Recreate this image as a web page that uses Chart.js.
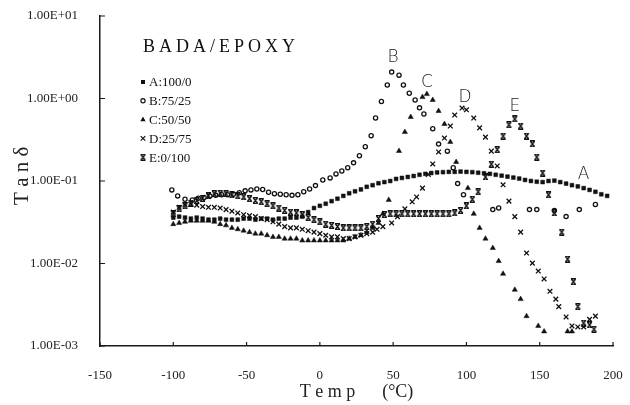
<!DOCTYPE html>
<html>
<head>
<meta charset="utf-8">
<script src="https://cdn.jsdelivr.net/npm/chart.js@4.4.0/dist/chart.umd.min.js"></script>
<style>
  html, body { margin: 0; padding: 0; background: #fff; }
  #wrap { width: 630px; height: 405px; }
</style>
</head>
<body>
<div id="wrap"><canvas id="tanChart" width="630" height="405"></canvas></div>
<script>
// tan delta vs temperature for the BADA/EPOXY blends

const seriesNames = ['A:100/0', 'B:75/25', 'C:50/50', 'D:25/75', 'E:0/100'];

// A 100/0
const aTemp = [-100, -96, -92, -88, -84, -80, -76, -72, -68, -64,
  -60, -56, -52, -48, -44, -40, -36, -32, -28, -24,
  -20, -16, -12, -8, -4, 0, 4, 8, 12, 16,
  20, 24, 28, 32, 36, 40, 44, 48, 52, 56,
  60, 64, 68, 72, 76, 80, 84, 88, 92, 96,
  100, 104, 108, 112, 116, 120, 124, 128, 132, 136,
  140, 144, 148, 152, 156, 160, 164, 168, 172, 176,
  180, 184, 188, 192, 196];
const aTan = [.036, .037, .036, .035, .036, .035, .034, .034, .035, .034,
  .034, .034, .035, .035, .034, .035, .035, .034, .035, .035,
  .036, .036, .037, .042, .047, .050, .053, .057, .061, .066,
  .071, .075, .079, .085, .089, .094, .097, .100, .106, .109,
  .112, .115, .119, .122, .125, .127, .128, .129, .129, .130,
  .129, .128, .126, .124, .122, .119, .116, .113, .110, .107,
  .103, .100, .098, .097, .100, .101, .097, .093, .089, .086,
  .082, .078, .074, .069, .066];

// B 75/25
const bTemp = [-101, -97, -92, -87, -83, -79, -75, -71, -67, -63,
  -59, -55, -51, -47, -43, -39, -35, -31, -27, -23,
  -19, -15, -11, -7, -3, 2, 7, 11, 15, 19,
  23, 27, 31, 35, 38, 42, 46, 49, 54, 57,
  61, 65, 68, 71, 77, 81, 87, 91, 94, 98,
  118, 122, 143, 148, 160, 168, 177, 188];
const bTan = [.078, .066, .060, .059, .062, .063, .066, .067, .068, .068,
  .069, .072, .076, .078, .080, .079, .073, .070, .069, .068,
  .067, .068, .074, .080, .088, .103, .109, .122, .132, .145,
  .166, .202, .26, .354, .58, .92, 1.46, 2.09, 1.92, 1.46,
  1.16, .96, .77, .65, .43, .28, .23, .145, .093, .068,
  .045, .047, .045, .045, .044, .037, .045, .052];

// C 50/50
const cTemp = [-100, -96, -92, -88, -84, -80, -76, -72, -68, -64,
  -60, -56, -52, -48, -44, -40, -36, -32, -28, -24,
  -20, -16, -12, -8, -4, 0, 4, 8, 12, 16,
  20, 24, 28, 32, 36, 40, 43, 47, 54, 58,
  62, 70, 73, 77, 81, 85, 89, 93, 101, 105,
  109, 113, 118, 122, 125, 133, 137, 141, 149, 153,
  169, 172];
const cTan = [.030, .031, .032, .033, .033, .033, .033, .032, .030, .029,
  .027, .026, .025, .024, .023, .023, .022, .021, .021, .020,
  .020, .020, .019, .019, .019, .019, .019, .019, .019, .019,
  .020, .021, .022, .024, .027, .031, .040, .059, .231, .393,
  .597, 1.04, 1.13, .96, .705, .491, .297, .170, .082, .040,
  .027, .020, .0154, .0107, .0075, .0048, .0037, .0023, .00175, .0015,
  .0015, .0015];

// D 25/75
const dTemp = [-100, -96, -92, -88, -84, -80, -76, -72, -68, -64,
  -60, -56, -52, -48, -44, -40, -36, -32, -28, -24,
  -20, -16, -12, -8, -4, 0, 4, 8, 12, 16,
  20, 24, 28, 32, 36, 39, 43, 49, 53, 58,
  63, 66, 70, 74, 77, 81, 85, 89, 92, 97,
  100, 105, 109, 113, 117, 121, 125, 129, 133, 137,
  141, 145, 149, 153, 157, 161, 163, 168, 172, 176,
  180, 184, 188];
const dTan = [.042, .048, .052, .052, .051, .049, .048, .048, .047, .045,
  .043, .041, .039, .038, .037, .035, .034, .032, .030, .028,
  .027, .027, .026, .025, .024, .023, .022, .021, .021, .020,
  .020, .021, .022, .023, .024, .026, .028, .031, .037, .046,
  .056, .064, .082, .120, .161, .225, .332, .464, .630, .767,
  .730, .580, .440, .340, .230, .152, .090, .057, .037, .024,
  .0134, .0101, .0081, .0065, .0046, .0037, .0030, .00225, .00175, .0017,
  .0017, .0021, .0023];

// E 0/100
const eTemp = [-100, -96, -92, -88, -84, -80, -76, -72, -68, -64,
  -60, -56, -52, -48, -44, -40, -36, -32, -28, -24,
  -20, -16, -12, -8, -4, 0, 4, 8, 12, 16,
  20, 24, 28, 32, 36, 40, 44, 48, 52, 56,
  60, 64, 68, 72, 76, 80, 84, 88, 92, 96,
  100, 104, 108, 113, 117, 121, 125, 129, 133, 137,
  141, 145, 148, 152, 156, 160, 165, 169, 173, 176,
  180, 184, 187];
const eTan = [.040, .046, .050, .054, .058, .062, .066, .070, .071, .070,
  .068, .066, .064, .061, .058, .056, .053, .050, .047, .044,
  .042, .041, .039, .036, .034, .032, .030, .029, .028, .027,
  .027, .027, .027, .028, .030, .035, .039, .040, .040, .040,
  .040, .040, .040, .040, .040, .040, .040, .040, .041, .044,
  .050, .060, .074, .112, .160, .240, .350, .480, .565, .464,
  .351, .281, .195, .125, .068, .041, .024, .0113, .0060, .0030,
  .0019, .0018, .0016];

const yTicks = [0.001, 0.01, 0.1, 1, 10];
const yTickLabels = ['1.00E-03', '1.00E-02', '1.00E-01', '1.00E+00', '1.00E+01'];

// letters written next to each curve (temp, tan delta)
const curveTags = ['A', 'B', 'C', 'D', 'E'];
const tagTemp = [180, 50, 73, 99, 133];
const tagTan = [0.118, 3.1, 1.58, 1.04, 0.79];

const INK = '#111';
const SERIF = '"Liberation Serif", "DejaVu Serif", serif';

function pairs(xs, ys) {
  return xs.map((t, i) => ({ x: t, y: ys[i] }));
}

// x with bars on top and bottom, used for the E series
function barCross() {
  const c = document.createElement('canvas');
  c.width = 7; c.height = 7;
  const g = c.getContext('2d');
  g.strokeStyle = INK;
  g.lineWidth = 1.3;
  g.beginPath();
  g.moveTo(1, 0.7); g.lineTo(6, 0.7);
  g.moveTo(1, 6.3); g.lineTo(6, 6.3);
  g.moveTo(1.5, 1); g.lineTo(5.5, 6);
  g.moveTo(5.5, 1); g.lineTo(1.5, 6);
  g.stroke();
  return c;
}
const eMark = barCross();

function drawMark(ctx, i, x, y) {
  ctx.save();
  ctx.fillStyle = INK;
  ctx.strokeStyle = INK;
  ctx.lineWidth = 1.2;
  ctx.beginPath();
  if (i === 0) {
    ctx.fillRect(x - 2, y - 2, 4, 4);
  } else if (i === 1) {
    ctx.arc(x, y, 2.1, 0, Math.PI * 2);
    ctx.stroke();
  } else if (i === 2) {
    ctx.moveTo(x, y - 3); ctx.lineTo(x + 2.6, y + 1.6); ctx.lineTo(x - 2.6, y + 1.6);
    ctx.closePath(); ctx.fill();
  } else if (i === 3) {
    ctx.moveTo(x - 2.3, y - 2.3); ctx.lineTo(x + 2.3, y + 2.3);
    ctx.moveTo(x + 2.3, y - 2.3); ctx.lineTo(x - 2.3, y + 2.3);
    ctx.stroke();
  } else {
    ctx.drawImage(eMark, x - 3.5, y - 3.5);
  }
  ctx.restore();
}

// short inward tick marks on both axes
const innerTicks = {
  id: 'innerTicks',
  afterDraw(chart) {
    const { ctx, chartArea: { left, bottom }, scales: { x, y } } = chart;
    ctx.save();
    ctx.strokeStyle = '#1a1a1a';
    ctx.lineWidth = 1.2;
    ctx.beginPath();
    x.ticks.forEach(t => {
      const px = x.getPixelForValue(t.value);
      ctx.moveTo(px, bottom); ctx.lineTo(px, bottom - 4);
    });
    y.ticks.forEach(t => {
      const py = y.getPixelForValue(t.value);
      ctx.moveTo(left, py); ctx.lineTo(left + 5, py);
    });
    ctx.stroke();
    ctx.restore();
  }
};

// heading + key in the upper left, letters beside the curves
const notes = {
  id: 'notes',
  afterDraw(chart) {
    const { ctx, scales: { x, y } } = chart;
    ctx.save();
    ctx.fillStyle = INK;
    ctx.textBaseline = 'middle';
    ctx.textAlign = 'left';
    ctx.font = '18px ' + SERIF;
    if ('letterSpacing' in ctx) ctx.letterSpacing = '4px';
    ctx.fillText('BADA/EPOXY', 143, 47);
    if ('letterSpacing' in ctx) ctx.letterSpacing = '0px';

    ctx.font = '13px ' + SERIF;
    seriesNames.forEach((name, i) => {
      const ry = 82 + i * 18.8;
      drawMark(ctx, i, 143, ry);
      ctx.fillText(name, 149, ry + 1);
    });

    ctx.textAlign = 'center';
    ctx.fillStyle = '#222';
    ctx.font = '200 17px "DejaVu Sans", "Liberation Sans Narrow", sans-serif';
    curveTags.forEach((tag, i) => {
      ctx.fillText(tag, x.getPixelForValue(tagTemp[i]), y.getPixelForValue(tagTan[i]));
    });
    ctx.restore();
  }
};

const styles = [
  { pointStyle: 'rect', pointRadius: 2.7, backgroundColor: INK, borderColor: INK, borderWidth: 0.5 },
  { pointStyle: 'circle', pointRadius: 2.1, backgroundColor: 'rgba(0,0,0,0)', borderColor: INK, borderWidth: 1.3 },
  { pointStyle: 'triangle', pointRadius: 3, backgroundColor: INK, borderColor: INK, borderWidth: 0.5 },
  { pointStyle: 'crossRot', pointRadius: 3.3, backgroundColor: INK, borderColor: INK, borderWidth: 1.3 },
  { pointStyle: eMark, pointRadius: 3.5, backgroundColor: INK, borderColor: INK, borderWidth: 1 }
];
const series = [pairs(aTemp, aTan), pairs(bTemp, bTan), pairs(cTemp, cTan), pairs(dTemp, dTan), pairs(eTemp, eTan)];

new Chart(document.getElementById('tanChart'), {
  type: 'scatter',
  data: {
    datasets: series.map((pts, i) => Object.assign({
      label: seriesNames[i],
      data: pts,
      showLine: false,
      pointHoverRadius: 3
    }, styles[i]))
  },
  options: {
    responsive: false,
    animation: false,
    devicePixelRatio: 1,
    layout: { padding: { left: 0, right: 17, top: 16, bottom: 0 } },
    plugins: {
      legend: { display: false },
      tooltip: { enabled: false }
    },
    scales: {
      x: {
        type: 'linear',
        min: -150,
        max: 200,
        grid: { display: false },
        border: { display: true, color: '#1a1a1a', width: 1.5 },
        ticks: {
          stepSize: 50,
          padding: 14,
          maxRotation: 0,
          color: '#222',
          font: { family: SERIF, size: 13 }
        },
        title: {
          display: true,
          text: 'T e m p      (°C)',
          color: '#222',
          font: { family: SERIF, size: 18 },
          padding: { top: 0, bottom: 2 }
        },
        afterFit(scale) {
          scale.height = 59;
          scale.paddingLeft = 0;
          scale.paddingRight = 0;
        }
      },
      y: {
        type: 'logarithmic',
        min: 0.001,
        max: 10,
        grid: { display: false },
        border: { display: true, color: '#1a1a1a', width: 1.5 },
        afterBuildTicks(scale) {
          scale.ticks = yTicks.map(v => ({ value: v }));
        },
        ticks: {
          padding: 14,
          color: '#222',
          font: { family: SERIF, size: 13 },
          callback: v => yTickLabels[yTicks.indexOf(v)]
        },
        title: {
          display: true,
          text: '  T a n δ',
          color: '#222',
          font: { family: SERIF, size: 21 },
          padding: { top: 10, bottom: 0 }
        },
        afterFit(scale) {
          scale.width = 100;
          scale.paddingTop = 0;
          scale.paddingBottom = 0;
        }
      }
    }
  },
  plugins: [innerTicks, notes]
});
</script>
</body>
</html>
